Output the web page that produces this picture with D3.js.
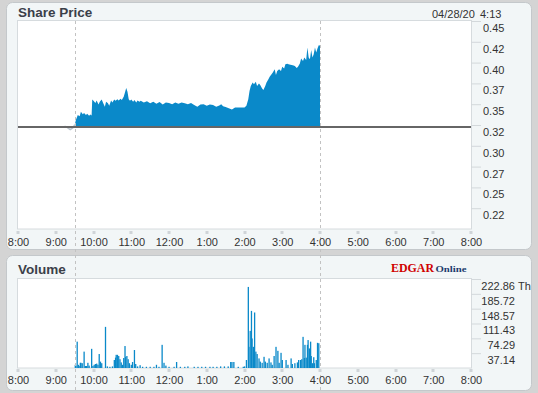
<!DOCTYPE html>
<html><head><meta charset="utf-8">
<script src="https://cdn.jsdelivr.net/npm/d3@7"></script>
<style>
html,body{margin:0;padding:0;background:#d4d4d4;}
svg{display:block;}
text{font-family:"Liberation Sans",Arial,sans-serif;}
</style></head>
<body>
<svg id="c" width="538" height="393"></svg>
<script>
// ---- data ----
const hourTicks = [8,9,10,11,12,13,14,15,16,17,18,19,20];
const hourLabels = ["8:00","9:00","10:00","11:00","12:00","1:00","2:00","3:00","4:00","5:00","6:00","7:00","8:00"];
const priceTicks = [0.45,0.425,0.40,0.375,0.35,0.325,0.30,0.275,0.25,0.225];
const volumeTicks = [222.86,185.72,148.57,111.43,74.29,37.14];
const prevClose = 0.3225;
const preTimes = ["9:14","9:18","9:23","9:27","9:30"];
const prePrices = [0.3235,0.3222,0.3195,0.3215,0.3250];
const priceTimes = ["9:30","9:32","9:35","9:38","9:40","9:43","9:45","9:48","9:50","9:53","9:55","9:57","9:58","10:00","10:03","10:05","10:08","10:10","10:13","10:15","10:18","10:20","10:23","10:25","10:28","10:30","10:33","10:35","10:38","10:40","10:43","10:45","10:48","10:50","10:52","10:54","10:56","10:58","11:00","11:03","11:05","11:08","11:10","11:13","11:15","11:20","11:25","11:30","11:35","11:40","11:45","11:50","11:55","12:00","12:05","12:10","12:15","12:20","12:25","12:30","12:35","12:40","12:45","12:50","12:55","13:00","13:05","13:10","13:15","13:20","13:23","13:26","13:30","13:35","13:40","13:45","13:50","13:55","14:00","14:03","14:06","14:08","14:10","14:13","14:15","14:18","14:20","14:23","14:25","14:28","14:30","14:33","14:35","14:38","14:40","14:43","14:45","14:48","14:50","14:52","14:55","14:58","15:00","15:03","15:05","15:08","15:10","15:13","15:15","15:18","15:20","15:23","15:25","15:28","15:30","15:33","15:35","15:38","15:40","15:42","15:44","15:46","15:48","15:50","15:52","15:54","15:56","15:58","16:00"];
const prices = [0.3250,0.3310,0.3370,0.3355,0.3410,0.3380,0.3395,0.3370,0.3385,0.3360,0.3375,0.3365,0.3555,0.3540,0.3515,0.3545,0.3495,0.3530,0.3555,0.3520,0.3470,0.3530,0.3510,0.3480,0.3545,0.3520,0.3555,0.3540,0.3560,0.3545,0.3565,0.3550,0.3590,0.3640,0.3695,0.3650,0.3560,0.3540,0.3555,0.3530,0.3550,0.3520,0.3545,0.3530,0.3540,0.3520,0.3535,0.3510,0.3530,0.3505,0.3525,0.3495,0.3520,0.3515,0.3500,0.3520,0.3505,0.3520,0.3510,0.3500,0.3515,0.3490,0.3470,0.3495,0.3500,0.3480,0.3495,0.3490,0.3470,0.3485,0.3500,0.3475,0.3465,0.3450,0.3435,0.3460,0.3460,0.3460,0.3460,0.3480,0.3560,0.3660,0.3720,0.3760,0.3740,0.3770,0.3720,0.3750,0.3730,0.3690,0.3670,0.3720,0.3760,0.3800,0.3830,0.3860,0.3880,0.3920,0.3850,0.3900,0.3920,0.3900,0.3950,0.3930,0.3980,0.3985,0.3980,0.3975,0.3970,0.3965,0.3960,0.3935,0.3950,0.3990,0.4050,0.4020,0.4060,0.4030,0.4180,0.4060,0.4040,0.4150,0.4060,0.4100,0.4180,0.4120,0.4170,0.4210,0.4205];
const volTimes = ["9:31","9:32","9:34","9:36","9:37","9:39","9:40","9:42","9:45","9:47","9:49","9:51","9:53","9:57","9:59","10:01","10:03","10:05","10:07","10:09","10:11","10:13","10:19","10:22","10:26","10:30","10:33","10:35","10:36","10:38","10:40","10:42","10:44","10:46","10:48","10:50","10:51","10:53","10:55","10:57","11:00","11:02","11:05","11:07","11:10","11:14","11:18","11:24","11:30","11:36","11:40","11:44","11:49","11:52","11:55","12:00","12:08","12:12","12:18","12:25","12:30","12:40","12:46","12:52","12:58","13:05","13:10","13:16","13:22","13:28","13:34","13:38","13:40","13:43","13:50","13:58","14:00","14:03","14:06","14:07","14:09","14:11","14:12","14:14","14:16","14:18","14:20","14:23","14:25","14:28","14:31","14:33","14:36","14:39","14:42","14:44","14:47","14:50","14:53","14:55","14:58","15:00","15:06","15:09","15:14","15:16","15:20","15:24","15:26","15:29","15:31","15:33","15:35","15:36","15:38","15:40","15:41","15:43","15:45","15:46","15:48","15:50","15:51","15:54","15:56","15:58"];
const volumes = [8,6,66,8,5,13,13,12,41,5,5,13,6,48,5,8,10,11,8,35,16,12,103,4,3,4,20,26,33,33,30,22,14,8,25,55,28,30,22,12,8,15,45,10,4,7,3,3,3,3,8,3,58,13,6,3,3,15,3,3,4,3,3,3,3,3,3,3,4,4,4,15,15,15,3,3,4,20,203,53,93,143,74,53,139,41,35,24,16,13,28,16,13,24,14,8,30,53,43,13,38,20,20,8,24,10,12,14,20,20,22,78,25,58,26,58,70,49,66,30,12,27,12,20,63,62];

// ---- helpers ----
const toH = s => { const [h,m] = s.split(":").map(Number); return h + m/60; };
const svg = d3.select("#c");
const X0 = 18, X1 = 471;
const x = d3.scaleLinear().domain([8,20]).range([X0,X1]);
const yP = d3.scaleLinear().domain([0.2,0.45]).range([229,21]);
const yV = d3.scaleLinear().domain([0,222.86]).range([368,279]);
const blue = "#0a89c9";
const serif = "'Liberation Serif','Times New Roman',serif";

// panels
svg.append("rect").attr("x",6.5).attr("y",2.5).attr("width",525).attr("height",247).attr("rx",6)
  .attr("fill","#f2f6f7").attr("stroke","#c4c8cb");
svg.append("rect").attr("x",6.5).attr("y",255.5).attr("width",525).attr("height",135).attr("rx",6)
  .attr("fill","#f2f6f7").attr("stroke","#c4c8cb");
// plot areas
svg.append("rect").attr("x",X0-0.5).attr("y",20.5).attr("width",X1-X0+1).attr("height",208.5)
  .attr("fill","#fff").attr("stroke","#d6dbde");
svg.append("rect").attr("x",X0-0.5).attr("y",278.5).attr("width",X1-X0+1).attr("height",89.5)
  .attr("fill","#fff").attr("stroke","#d6dbde");

// titles
svg.append("text").attr("x",18).attr("y",16.5).attr("font-size",13.5).attr("font-weight","bold")
  .attr("fill","#3b4049").text("Share Price");
svg.append("text").attr("x",18).attr("y",274).attr("font-size",13.5).attr("font-weight","bold")
  .attr("fill","#3b4049").text("Volume");
svg.append("text").attr("x",432).attr("y",17.5).attr("font-size",11).attr("fill","#333").text("04/28/20");
svg.append("text").attr("x",480).attr("y",17.5).attr("font-size",11).attr("fill","#333").text("4:13");
svg.append("text").attr("x",391).attr("y",271.5).attr("font-size",12.5).attr("font-weight","bold")
  .style("font-family",serif).attr("fill","#d00000")
  .attr("textLength",43).attr("lengthAdjust","spacingAndGlyphs").text("EDGAR");
svg.append("text").attr("x",435.5).attr("y",271.5).attr("font-size",9).attr("font-weight","bold")
  .style("font-family",serif).attr("fill","#1d3c6e")
  .attr("textLength",31).attr("lengthAdjust","spacingAndGlyphs").text("Online");

// price area
const pd = priceTimes.map((t,i)=>({t:toH(t),v:prices[i]}));
svg.append("path").datum(pd).attr("fill",blue)
  .attr("d",d3.area().x(d=>x(d.t)).y0(yP(prevClose)).y1(d=>yP(d.v)));
const pre = preTimes.map((t,i)=>({t:toH(t),v:prePrices[i]}));
svg.append("path").datum(pre).attr("fill","none").attr("stroke","#b9c3cc").attr("stroke-width",1.5)
  .attr("d",d3.line().x(d=>x(d.t)).y(d=>yP(d.v)));
// previous close line
svg.append("line").attr("x1",X0).attr("x2",X1).attr("y1",yP(prevClose)).attr("y2",yP(prevClose))
  .attr("stroke","#666").attr("stroke-width",2);

// volume bars
const vd = volTimes.map((t,i)=>({t:toH(t),v:volumes[i]}));
svg.append("g").selectAll("rect").data(vd).join("rect")
  .attr("x",d=>x(d.t)-0.6).attr("width",1.3)
  .attr("y",d=>yV(d.v)).attr("height",d=>yV(0)-yV(d.v)).attr("fill",blue);

// dashed session lines
[9.5,16].forEach(h=>{
  svg.append("line").attr("x1",Math.round(x(h))+0.5).attr("x2",Math.round(x(h))+0.5)
    .attr("y1",21).attr("y2",390).attr("stroke","#c2c2c2").attr("stroke-dasharray","3,3");
});

// price y axis
const ay = svg.append("g").attr("transform",`translate(${X1},0)`)
  .call(d3.axisRight(yP).tickValues(priceTicks).tickSize(10).tickPadding(2)
    .tickFormat(v=>(Math.floor(v*100+1e-6)/100).toFixed(2)));
ay.select(".domain").remove();
ay.selectAll("line").attr("stroke","#d3d8db");
ay.selectAll("text").attr("font-size",11).attr("fill","#333").attr("dy","0.95em");

// volume y axis
const av = svg.append("g").attr("transform",`translate(${X1},0)`)
  .call(d3.axisRight(yV).tickValues(volumeTicks).tickSize(10).tickPadding(2)
    .tickFormat(d3.format(".2f")));
av.select(".domain").remove();
av.selectAll("line").attr("stroke","#d3d8db");
av.selectAll("text").attr("font-size",11).attr("fill","#333").attr("dy","0.95em")
  .attr("text-anchor","end").attr("x",44);
svg.append("text").attr("x",X1+47).attr("y",yV(volumeTicks[0])+10.5).attr("font-size",11)
  .attr("fill","#333").text("Th");

// x axes
function xAxis(ty, tickY){
  const g = svg.append("g").attr("transform",`translate(0,${ty})`)
    .call(d3.axisBottom(x).tickValues(hourTicks).tickSize(0).tickPadding(3)
      .tickFormat((d,i)=>hourLabels[i]));
  g.select(".domain").remove();
  g.selectAll("text").attr("font-size",11).attr("fill","#333");
  svg.append("g").selectAll("rect").data(hourTicks).join("rect")
    .attr("x",d=>Math.round(x(d))-1.5).attr("y",tickY).attr("width",3).attr("height",3)
    .attr("fill","#cfd4d8");
}
xAxis(235.5, 231);
xAxis(373.5, 369);
</script>
</body></html>
